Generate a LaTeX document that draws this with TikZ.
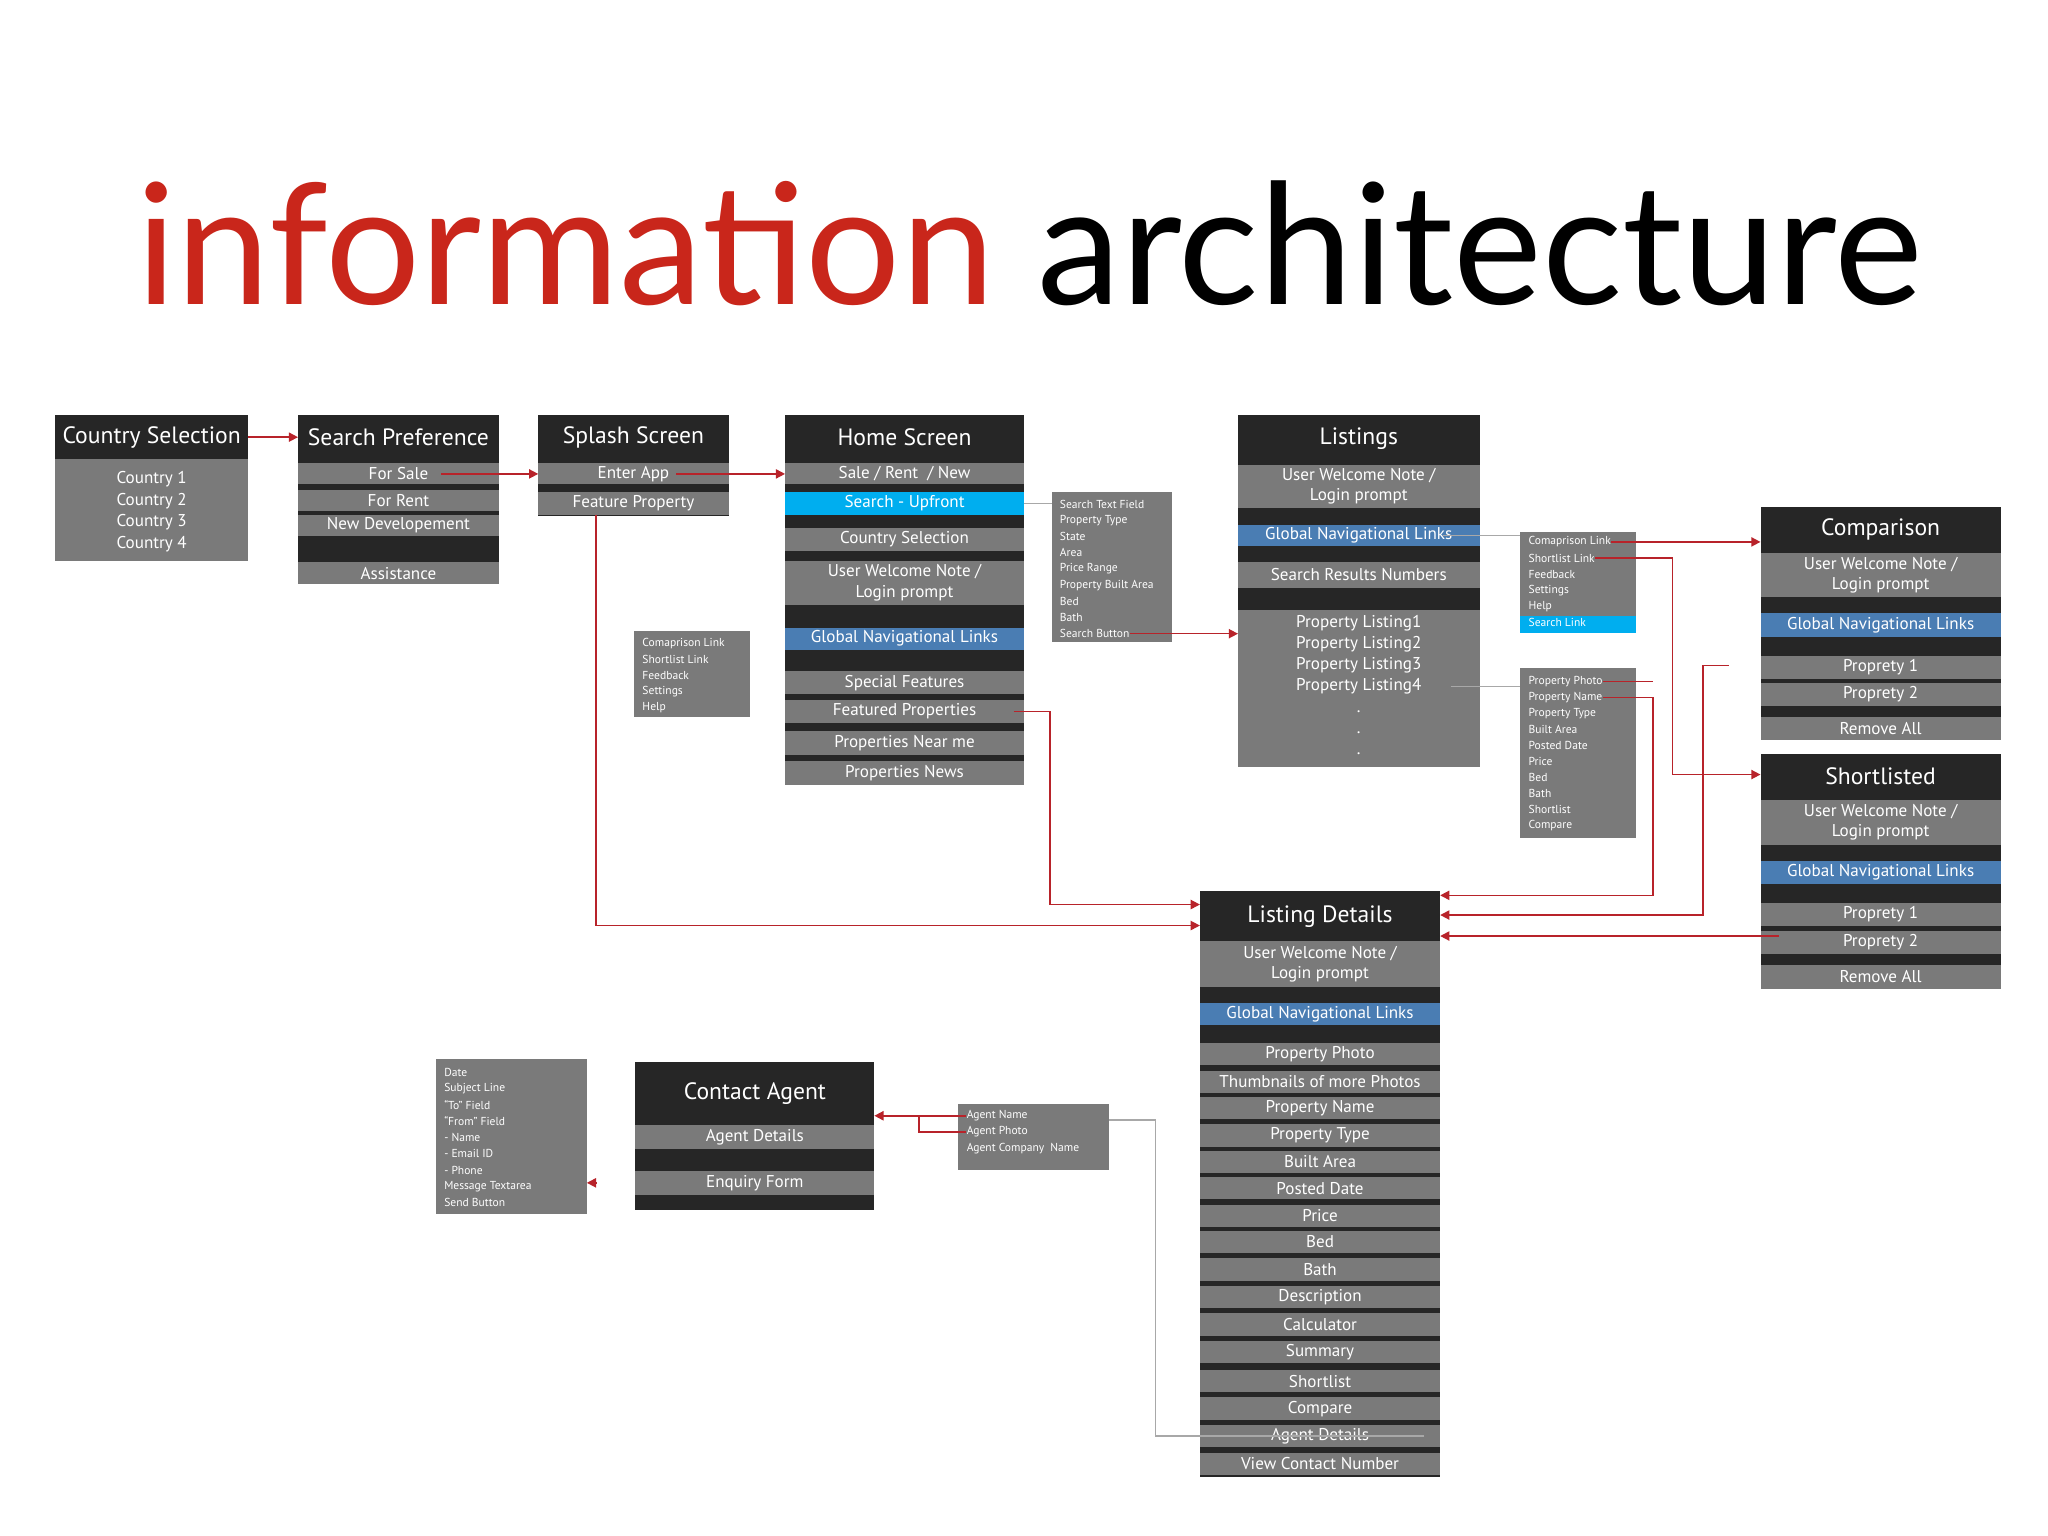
\documentclass[tikz,border=0pt]{standalone}
\usepackage{fontspec}
\setmainfont{PT Sans}
\newfontfamily\titlefont{Lato}
\usetikzlibrary{arrows.meta}
\definecolor{bgray}{HTML}{7A7A7A}
\definecolor{bdark}{HTML}{262626}
\definecolor{bblue}{HTML}{4A7DB3}
\definecolor{bcyan}{HTML}{00AEEF}
\definecolor{bred}{HTML}{B8232A}
\definecolor{tred}{HTML}{C9261B}
\definecolor{lgray}{HTML}{A8A8A8}
\tikzset{
  cell/.style={inner sep=0pt,outer sep=0pt,text=white,align=center},
  hdr/.style={font=\fontsize{9}{10}\selectfont},
  itm/.style={font=\fontsize{6.5}{7.8}\selectfont},
  sml/.style={font=\fontsize{4.4}{5}\selectfont,text=white,inner sep=0pt,anchor=west},
  redarr/.style={draw=bred,line width=0.6pt,-{Triangle[length=3.5pt,width=3.5pt]}},
  redln/.style={draw=bred,line width=0.6pt},
  grayln/.style={draw=lgray,line width=0.6pt},
}
% \rw{name}{x1}{y1}{x2}{y2}{fill}{style}{text}
\newcommand{\rw}[8]{\node[cell,fill=#6,#7,minimum width={(#4-#2)*0.5pt},minimum height={(#5-#3)*0.5pt}] (#1) at ({(#2+#4)/2},{(#3+#5)/2}) {#8};}
\begin{document}
\begin{tikzpicture}[x=0.5pt,y=-0.5pt]
\path[use as bounding box,fill=white] (0,0) rectangle (1560,1170);
\node[anchor=base,font=\titlefont\fontsize{64}{70}\selectfont,inner sep=0pt] (title) at (784,232) {\textcolor{tred}{information} architecture};

% Country Selection
\rw{cs}{42}{316}{189}{427}{bgray}{}{}
\rw{csh}{42}{316}{189}{350}{bdark}{hdr}{Country Selection}
\foreach \t [count=\i] in {Country 1,Country 2,Country 3,Country 4}
  \node[cell,itm] (cs\i) at (115.5,{349+16.3*\i}) {\t};

% Search Preference
\rw{sp}{227}{316}{380}{445}{bdark}{}{}
\rw{sph}{227}{316}{380}{350}{bdark}{hdr}{Search Preference}
\rw{sp1}{227}{353}{380}{369}{bgray}{itm}{For Sale}
\rw{sp2}{227}{373}{380}{389}{bgray}{itm}{For Rent}
\rw{sp3}{227}{392}{380}{408}{bgray}{itm}{New Developement}
\rw{sp4}{227}{428}{380}{445}{bgray}{itm}{Assistance}

% Splash
\rw{ss}{410}{316}{555}{393}{bdark}{}{}
\rw{ssh}{410}{316}{555}{350}{bdark}{hdr}{Splash Screen}
\rw{ss1}{410}{353}{555}{369}{bgray}{itm}{Enter App}
\rw{ss2}{410}{375}{555}{392}{bgray}{itm}{Feature Property}

% Home
\rw{hs}{598}{316}{780}{598}{bdark}{}{}
\rw{hsh}{598}{316}{780}{350}{bdark}{hdr}{Home Screen}
\rw{hs1}{598}{353}{780}{369}{bgray}{itm}{Sale / Rent \ / New}
\rw{hs2}{598}{375}{780}{392}{bcyan}{itm}{Search - Upfront}
\rw{hs3}{598}{402}{780}{420}{bgray}{itm}{Country Selection}
\rw{hs4}{598}{427}{780}{461}{bgray}{itm}{User Welcome Note /\\Login prompt}
\rw{hs5}{598}{478}{780}{495}{bblue}{itm}{Global Navigational Links}
\rw{hs6}{598}{511}{780}{529}{bgray}{itm}{Special Features}
\rw{hs7}{598}{533}{780}{551}{bgray}{itm}{Featured Properties}
\rw{hs8}{598}{557}{780}{575}{bgray}{itm}{Properties Near me}
\rw{hs9}{598}{580}{780}{598}{bgray}{itm}{Properties News}

% search box
\rw{sb}{801}{375}{893}{489}{bgray}{}{}
\foreach \t [count=\i] in {Search Text Field,Property Type,State,Area,Price Range,Property Built Area,Bed,Bath,Search Button}
  \node[sml] (sb\i) at (807,{372+12.3*\i}) {\t};

% left nav box
\rw{lnb}{483}{481}{571}{546}{bgray}{}{}
\foreach \t [count=\i] in {Comaprison Link,Shortlist Link,Feedback,Settings,Help}
  \node[sml] (ln\i) at (489,{478+12.2*\i}) {\t};

% Listings
\rw{ls}{943}{316}{1127}{584}{bdark}{}{}
\rw{lsh}{943}{316}{1127}{352}{bdark}{hdr}{Listings}
\rw{ls1}{943}{354}{1127}{387}{bgray}{itm}{User Welcome Note /\\Login prompt}
\rw{ls2}{943}{400}{1127}{416}{bblue}{itm}{Global Navigational Links}
\rw{ls3}{943}{428}{1127}{448}{bgray}{itm}{Search Results Numbers}
\rw{ls4}{943}{465}{1127}{584}{bgray}{}{}
\foreach \t [count=\i] in {Property Listing1,Property Listing2,Property Listing3,Property Listing4}
  \node[cell,itm] (pl\i) at (1035,{459+16*\i}) {\t};
\foreach \i in {1,2,3}
  \node[cell,itm] (dot\i) at (1035,{526+16*\i}) {.};

% nav box right
\rw{nb}{1158}{405}{1246}{482}{bgray}{}{}
\rw{nbs}{1158}{469}{1246}{482}{bcyan}{}{}
\foreach \t [count=\i] in {Comaprison Link,Shortlist Link,Feedback,Settings,Help,Search Link}
  \node[sml] (nb\i) at (1164,{400.5+12.3*\i}) {\t};

% property box
\rw{pb}{1158}{509}{1246}{638}{bgray}{}{}
\foreach \t [count=\i] in {Property Photo,Property Name,Property Type,Built Area,Posted Date,Price,Bed,Bath,Shortlist,Compare}
  \node[sml] (pb\i) at (1164,{507+12.2*\i}) {\t};

% Comparison
\rw{cp}{1341}{386}{1524}{564}{bdark}{}{}
\rw{cph}{1341}{386}{1524}{421}{bdark}{hdr}{Comparison}
\rw{cp1}{1341}{421}{1524}{455}{bgray}{itm}{User Welcome Note /\\Login prompt}
\rw{cp2}{1341}{467}{1524}{485}{bblue}{itm}{Global Navigational Links}
\rw{cp3}{1341}{500}{1524}{517}{bgray}{itm}{Proprety 1}
\rw{cp4}{1341}{520}{1524}{538}{bgray}{itm}{Proprety 2}
\rw{cp5}{1341}{546}{1524}{564}{bgray}{itm}{Remove All}

% Shortlisted
\rw{sl}{1341}{574}{1524}{753}{bdark}{}{}
\rw{slh}{1341}{574}{1524}{609}{bdark}{hdr}{Shortlisted}
\rw{sl1}{1341}{609}{1524}{644}{bgray}{itm}{User Welcome Note /\\Login prompt}
\rw{sl2}{1341}{656}{1524}{673}{bblue}{itm}{Global Navigational Links}
\rw{sl3}{1341}{688}{1524}{705}{bgray}{itm}{Proprety 1}
\rw{sl4}{1341}{709}{1524}{727}{bgray}{itm}{Proprety 2}
\rw{sl5}{1341}{735}{1524}{753}{bgray}{itm}{Remove All}

% Listing Details
\rw{ld}{914}{679}{1097}{1125}{bdark}{}{}
\rw{ldh}{914}{679}{1097}{717}{bdark}{hdr}{Listing Details}
\rw{ld1}{914}{717}{1097}{752}{bgray}{itm}{User Welcome Note /\\Login prompt}
\rw{ld2}{914}{764}{1097}{781}{bblue}{itm}{Global Navigational Links}
\foreach \t/\y [count=\i from 3] in {Property Photo/803,Thumbnails of more Photos/824,Property Name/844,Property Type/865,Built Area/885,Posted Date/905,Price/926,Bed/946,Bath/967,Description/988,Calculator/1009,Summary/1030,Shortlist/1052,Compare/1073,Agent Details/1094,View Contact Number/1115}
  \node[cell,itm,fill=bgray,minimum width=91.5pt,minimum height=8.5pt] (ld\i) at (1005.5,\y) {\t};

% Contact Agent
\rw{ca}{484}{809}{666}{922}{bdark}{}{}
\rw{cah}{484}{809}{666}{857}{bdark}{hdr}{Contact Agent}
\rw{ca1}{484}{857}{666}{875}{bgray}{itm}{Agent Details}
\rw{ca2}{484}{892}{666}{910}{bgray}{itm}{Enquiry Form}

% email box
\rw{eb}{332}{807}{447}{925}{bgray}{}{}
\foreach \t [count=\i] in {Date,Subject Line,``To'' Field,``From'' Field,- Name,- Email ID,- Phone,Message Textarea,Send Button}
  \node[sml] (eb\i) at (338,{804.5+12.4*\i}) {\t};

% agent box
\rw{ab}{730}{841}{845}{891}{bgray}{}{}
\foreach \t [count=\i] in {Agent Name,Agent Photo,Agent Company\ \ Name}
  \node[sml] (ab\i) at (736,{837.5+12.4*\i}) {\t};

% connectors
\draw[redarr] (csh.east) -- (sph.west);
\draw[redarr] ([xshift=-22pt]sp1.east) -- (sp1.east -| ss.west);
\draw[redarr] ([xshift=-20pt]ss1.east) -- (ss1.east -| hs.west);
\draw[grayln] (hs2.east) -- (hs2.east -| sb.west);
\draw[redarr] (sb9.east) -- (sb9.east -| ls.west);
\draw[grayln] ([xshift=-14pt]ls2.east) -- (ls2.east -| nb.west);
\draw[grayln] ([xshift=-11pt]pl4.east -| ls.east) -- (pl4.east -| pb.west);
\draw[redarr] (nb1.east) -- (nb1.east -| cp.west);
\coordinate (c1) at (1274,0);
\draw[redarr] (nb2.east) -- (nb2.east -| c1) |- (1341,590);
\coordinate (c2) at (1259,0);
\draw[redln] (pb1.east) -- (pb1.east -| c2);
\draw[redarr] (pb2.east) -- (pb2.east -| c2) |- (1097,682);
\coordinate (c3) at (1297,0);
\draw[redarr] ([xshift=-12pt]cp3.west |- 1,507) -- (c3 |- 0,507) |- (1097,697);
\draw[redarr] ([xshift=7pt]sl4.west |- 1,713) -- (1097,713);
\coordinate (c4) at (800,0);
\draw[redarr] ([xshift=-4pt]hs7.east) -- (hs7.east -| c4) |- (914,689);
\coordinate (c5) at (454,0);
\draw[redarr] (c5 |- ss2.south) |- (914,705);
\coordinate (c6) at (880,0);
\draw[grayln] ([xshift=-6pt]ld17.east) -- (ld17.east -| c6) |- (845,853);
\draw[redarr] (ab1.west) -- (ab1.west -| ca.east);
\coordinate (c7) at (700,0);
\draw[redln] (ab2.west) -- (ab2.west -| c7) -- (c7 |- ab1.west);
\draw[redarr] ([xshift=-15pt]ca2.west) -- (ca2.west -| eb.east);
\end{tikzpicture}
\end{document}
